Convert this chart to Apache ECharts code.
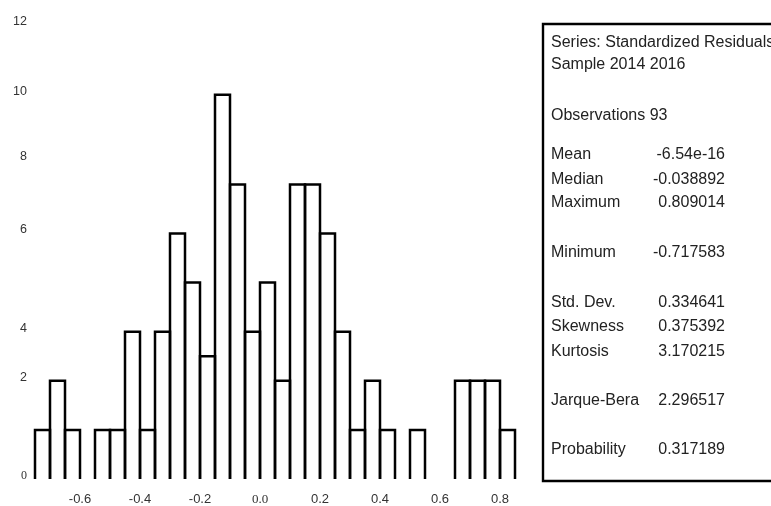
<!DOCTYPE html>
<html><head><meta charset="utf-8">
<script src="https://cdn.jsdelivr.net/npm/echarts@6/dist/echarts.min.js"></script>
<style>html,body{margin:0;padding:0;background:#fff}#c{width:771px;height:506px}</style>
</head><body><div id="c"></div>
<script>
// ---- data ----
const binEdges = [-0.75,-0.70,-0.65,-0.60,-0.55,-0.50,-0.45,-0.40,-0.35,-0.30,-0.25,-0.20,-0.15,-0.10,-0.05,
                  0.00,0.05,0.10,0.15,0.20,0.25,0.30,0.35,0.40,0.45,0.50,0.55,0.60,0.65,0.70,0.75,0.80,0.85];
const binCounts = [1,2,1,0,1,1,4,1,4,6,5,3,10,7,4,5,2,7,7,6,4,1,2,1,0,1,0,0,2,2,2,1];
const xTickValues = [-0.6,-0.4,-0.2,0.0,0.2,0.4,0.6,0.8];
const yTickLabels = [0,2,4,6,8,10,12];
// the reference's count axis is not linear: count -> axis level
const yScaleCounts = [0,1,2,3,4,5,6,7,8,10,12];
const yScaleLevels = [0,2,4,5,6,8,10,12,13,15.65,18.5];
const statsHeader = ['Series: Standardized Residuals','Sample 2014 2016'];
const statsObs = 'Observations 93';
const statsNames = ['Mean','Median','Maximum','Minimum','Std. Dev.','Skewness','Kurtosis','Jarque-Bera','Probability'];
const statsValues = ['-6.54e-16','-0.038892','0.809014','-0.717583','0.334641','0.375392','3.170215','2.296517','0.317189'];

// ---- scale ----
function toLevel(c){
  for(let i=1;i<yScaleCounts.length;i++){
    if(c<=yScaleCounts[i]){
      const c0=yScaleCounts[i-1],c1=yScaleCounts[i],l0=yScaleLevels[i-1],l1=yScaleLevels[i];
      return l0+(c-c0)/(c1-c0)*(l1-l0);
    }
  }
  return yScaleLevels[yScaleLevels.length-1];
}
const yTickLevels = yTickLabels.map(toLevel);

const barData = [];
binCounts.forEach((c,i)=>{ if(c>0) barData.push([binEdges[i],binEdges[i+1],toLevel(c)]); });

// ---- layout ----
const FONT = '"Liberation Sans", Arial, sans-serif';
const headerY = [43,65];
const obsY = 116;
const rowY = [155,180,203,253,303,327,352,401,450];
const graphic = [
  {type:'rect', shape:{x:543,y:24,width:260,height:457}, style:{fill:'none',stroke:'#000',lineWidth:2.4}}
];
function txt(s,x,y,align){
  return {type:'text', x:x, y:y, style:{text:s, fill:'#222', fontSize:16, fontFamily:FONT,
    align:align, textAlign:align, verticalAlign:'middle', textVerticalAlign:'middle'}};
}
statsHeader.forEach((s,i)=>graphic.push(txt(s,551,headerY[i],'left')));
graphic.push(txt(statsObs,551,obsY,'left'));
statsNames.forEach((s,i)=>graphic.push(txt(s,551,rowY[i],'left')));
statsValues.forEach((s,i)=>graphic.push(txt(s,725,rowY[i],'right')));

const chart = echarts.init(document.getElementById('c'), null, {renderer:'canvas'});
chart.setOption({
  animation:false,
  backgroundColor:'#fff',
  grid:{left:35, right:256, top:12.6, bottom:26, containLabel:false},
  xAxis:{
    type:'value', min:binEdges[0], max:binEdges[binEdges.length-1],
    axisLine:{show:false}, axisTick:{show:false}, splitLine:{show:false},
    axisLabel:{
      customValues:xTickValues, margin:14, color:'#333', fontSize:13, fontFamily:FONT,
      formatter:v=>Math.abs(v)<1e-9?'{z|0.0}':v.toFixed(1),
      rich:{z:{fontFamily:'"Liberation Serif", serif', fontSize:13, color:'#333'}}
    }
  },
  yAxis:{
    type:'value', min:0, max:19,
    axisLine:{show:false}, axisTick:{show:false}, splitLine:{show:false},
    axisLabel:{
      customValues:yTickLevels, margin:8, color:'#333', fontSize:12.5, fontFamily:FONT,
      padding:[0,0,7,0],
      formatter:v=>{
        let k=0,b=1e9;
        yTickLevels.forEach((l,i)=>{const d=Math.abs(l-v); if(d<b){b=d;k=i;}});
        const lab=yTickLabels[k];
        return lab===0?'{z|0}':String(lab);
      },
      rich:{z:{fontFamily:'"Liberation Serif", serif', fontSize:12, color:'#333'}}
    }
  },
  series:[{
    type:'custom',
    encode:{x:[0,1], y:2},
    data:barData,
    renderItem:(params,api)=>{
      const p0=api.coord([api.value(0),0]);
      const p1=api.coord([api.value(1),api.value(2)]);
      return {type:'polyline',
        shape:{points:[[p0[0],p0[1]],[p0[0],p1[1]],[p1[0],p1[1]],[p1[0],p0[1]]]},
        style:{stroke:'#000', lineWidth:2.5, fill:null, lineJoin:'miter'}};
    }
  }],
  graphic:graphic
});
</script></body></html>
